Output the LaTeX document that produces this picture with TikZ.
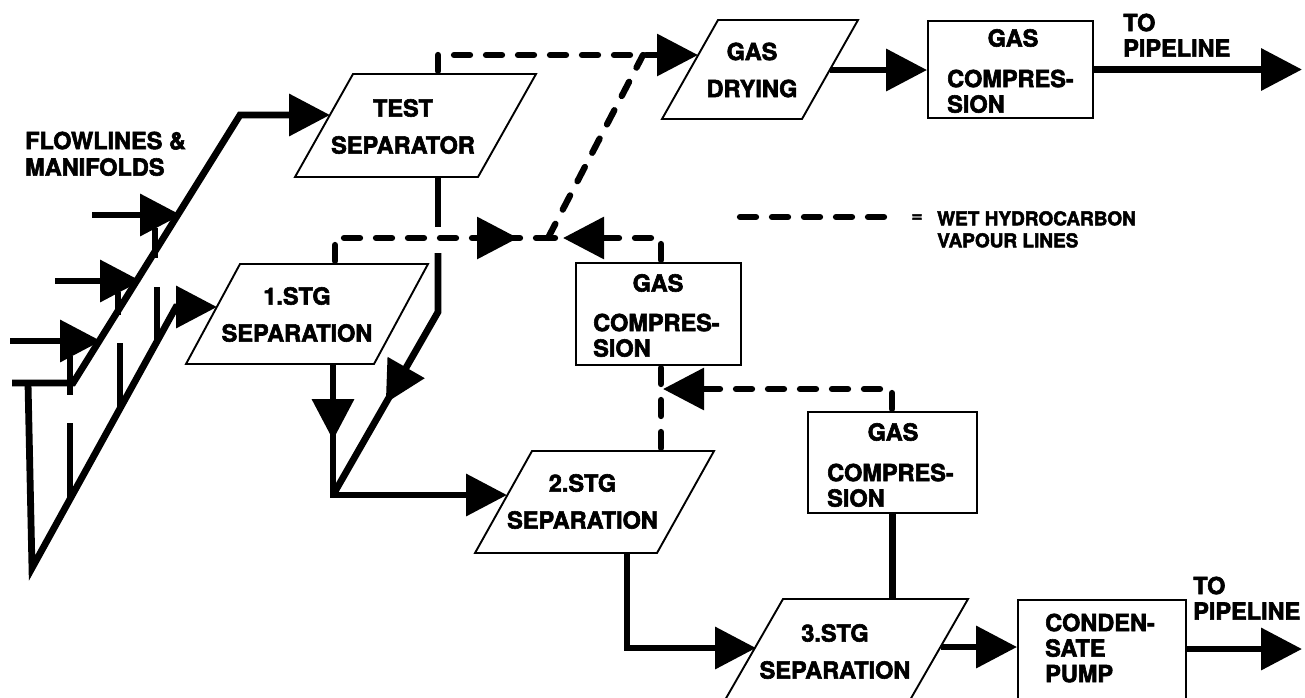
\documentclass[tikz,border=0pt]{standalone}
\usepackage{fontspec}
\setmainfont{TeX Gyre Heros}[BoldFeatures={FakeBold=2.5}]
\usetikzlibrary{arrows.meta,calc,decorations.markings}
\begin{document}
\begin{tikzpicture}[x=1pt,y=-1pt,
  >={Triangle[length=41pt,width=41pt]},
  pipe/.style={line width=6.8pt},
  vapour/.style={line width=6.3pt, line cap=round, dash pattern=on 16pt off 16pt},
  outline/.style={line width=1.9pt, line join=miter},
  box/.style={draw, line width=1.9pt, inner sep=0pt},
  lbl/.style={font=\fontsize{23.5}{37}\selectfont\bfseries, inner sep=0pt, align=center},
  lbll/.style={font=\fontsize{23.5}{25.5}\selectfont\bfseries, inner sep=0pt, align=left, anchor=north west},
  small/.style={font=\fontsize{19}{22}\selectfont\bfseries, inner sep=0pt, align=left},
  midhead/.style={postaction={decorate}, decoration={markings, mark=at position #1 with {\arrow{>}}}},
]
\useasboundingbox (0,0) rectangle (1305,697);

% ---------- parallelogram outlines (separators, drying) ----------
\draw[outline] (353,74) -- (536,74) -- (478,177) -- (295,177) -- cycle;
\draw[outline] (240,264) -- (428,264) -- (374,364) -- (186,364) -- cycle;
\draw[outline] (532,451) -- (714,451) -- (657,553) -- (475,553) -- cycle;
\draw[outline] (783,599) -- (968,599) -- (910,700) -- (725,700) -- cycle;
\draw[outline] (718,20) -- (858,20) -- (802,119) -- (662,119) -- cycle;

% ---------- labels of parallelograms ----------
\node[lbl] (ts) at (403,126.5) {TEST\\SEPARATOR};
\node[lbl] (s1) at (297,314.5) {1.STG\\SEPARATION};
\node[lbl] (s2) at (582.5,501.5) {2.STG\\SEPARATION};
\node[lbl] (s3) at (835,651.5) {3.STG\\SEPARATION};
\node[lbl] (gd) at (752,70) {GAS\\DRYING};

% ---------- rectangular boxes ----------
\node[box, minimum width=165pt, minimum height=97pt] (gc1) at (1010.5,69.5) {};
\node[box, minimum width=165pt, minimum height=102pt] (gc2) at (658.5,314) {};
\node[box, minimum width=169pt, minimum height=101pt] (gc3) at (892.5,462.5) {};
\node[box, minimum width=168pt, minimum height=110pt] (cp) at (1102,655) {};

\node[lbl] (gc1a) at (1013,38) {GAS};
\node[lbll] (gc1b) at (947,69.5) {COMPRES-\\SION};
\node[lbl] (gc2a) at (658,283) {GAS};
\node[lbll] (gc2b) at (593,313.5) {COMPRES-\\SION};
\node[lbl] (gc3a) at (893,432) {GAS};
\node[lbll] (gc3b) at (827,463.5) {COMPRES-\\SION};
\node[lbll] (cpt) at (1045,613.5) {CONDEN-\\SATE\\PUMP};

% ---------- free texts ----------
\node[lbll, font=\fontsize{23.5}{26.5}\selectfont\bfseries] (flow) at (25,131.5) {FLOWLINES \&\\MANIFOLDS};
\node[lbll] (tp1) at (1123,13.5) {TO\\PIPELINE};
\node[lbll] (tp2) at (1193,576.5) {TO\\PIPELINE};
\node[small] (eq) at (917,218) {=};
\node[small, anchor=north west] (leg) at (937,211) {WET HYDROCARBON\\VAPOUR LINES};

% ---------- connection points ----------
\coordinate (tsin)  at (330,115);
\coordinate (tstop) at (438,74);
\coordinate (tsbot) at (438,177);
\coordinate (s1in)  at (217,307);
\coordinate (s1top) at (335,264);
\coordinate (s1bot) at (333,364);
\coordinate (mix)   at (333,495);
\coordinate (s2in)  at (507,495);
\coordinate (s2top) at (661,451);
\coordinate (s2bot) at (627,553);
\coordinate (s3in)  at (756,648);
\coordinate (s3top) at (892,599);
\coordinate (s3out) at (941,647);
\coordinate (gdin)  at (698,55);
\coordinate (gdout) at (830,70);
\coordinate (jn)    at (548,238);
\coordinate (pipe1) at (1302,69.5);
\coordinate (pipe2) at (1302,649);

% ---------- manifolds and flowlines ----------
\draw[pipe,->] (12,383) -- (73,383) -- (240,115) -- (tsin);
\draw[pipe,->] (28,383) -- (32,568) -- (176,307) -- (s1in);

\draw[pipe,->] (92,215) -- (181,215);
\draw[pipe] (155,228) -- (155,258);
\draw[pipe] (157,287) -- (157,341.4);
\draw[pipe,->] (55,281) -- (141,281);
\draw[pipe] (118,292) -- (118,315);
\draw[pipe] (120,343) -- (120,408.5);
\draw[pipe,->] (10,341) -- (101,341);
\draw[pipe] (70,356) -- (70,395);
\draw[pipe] (70,423) -- (70,499);

% ---------- liquid lines ----------
\draw[pipe] (tsbot) -- (438,227);
\draw[pipe, midhead=164pt] (438,253) -- (438,312) -- (mix);
\draw[pipe, midhead=76pt, ->] (s1bot) -- (mix) -- (s2in);
\draw[pipe,->] (s2bot) -- (627,648) -- (s3in);
\draw[pipe] (gc3.south) -- (gc3.south |- s3top);
\draw[pipe,->] (s3out) -- (s3out -| cp.west);
\draw[pipe,->] (cp.east |- pipe2) -- (pipe2);
\draw[pipe,->] (gdout) -- (gdout -| gc1.west);
\draw[pipe,->] (gc1.east) -- (pipe1);

% ---------- wet hydrocarbon vapour lines ----------
\draw[vapour,->] (438,71) -- (438,55) -- (gdin);
\draw[vapour, midhead=206pt] (335,261) -- (335,238) -- (jn);
\draw[vapour, midhead=120pt] (661,260) -- (661,238) -- (jn);
\draw[vapour] (jn) -- (643,55);
\draw[vapour] (661,368) -- (661,448);
\draw[vapour,->] (892,409) -- (892,389) -- (663,389);
\draw[vapour] (740,217) -- (897,217);
\end{tikzpicture}
\end{document}
